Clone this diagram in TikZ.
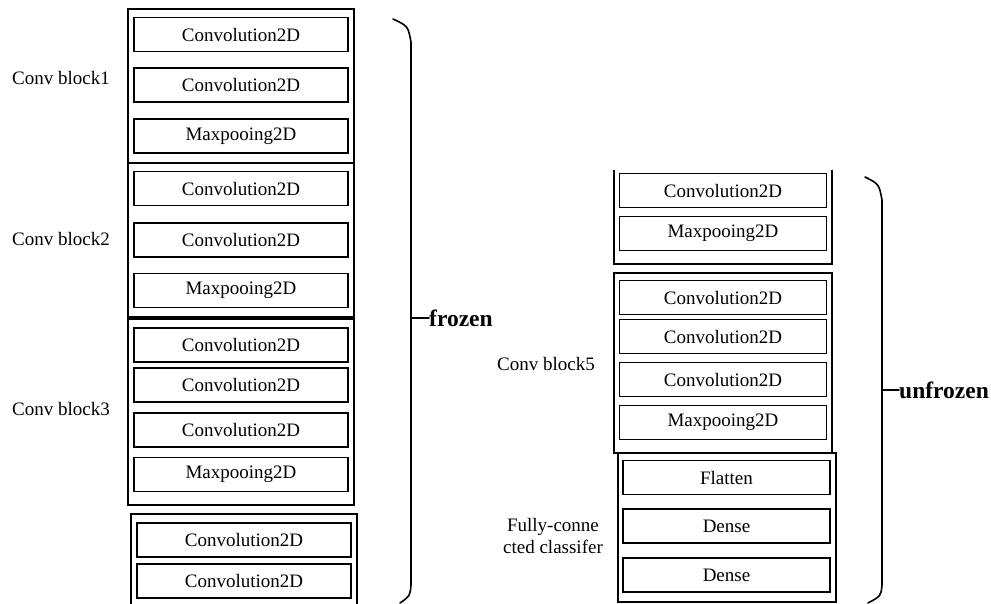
\documentclass[tikz,border=0pt]{standalone}
\usepackage{fontspec}
\setmainfont{Liberation Serif}
\usepackage{tikz}
\usetikzlibrary{positioning}
\tikzset{
  layer/.style={draw,line width=1.5pt,inner sep=0pt,minimum height=34pt,font=\fontsize{19}{21}\selectfont},
  layerL/.style={layer,minimum width=214pt},
  layerR/.style={layer,minimum width=207pt},
  blockbox/.style={draw,line width=1.3pt,inner sep=0pt},
  blocklab/.style={inner sep=0pt,align=center,font=\fontsize{19}{22}\selectfont},
  brace/.style={line width=1.6pt,line cap=round},
  bracelab/.style={inner sep=0pt,anchor=west,font=\fontsize{23.5}{25}\selectfont\bfseries}
}

\begin{document}
\begin{tikzpicture}[x=1pt,y=-1pt]
\clip (0,0) rectangle (991,603);
\useasboundingbox (0,0) rectangle (991,603);
% left column
\node[blockbox,minimum width=226pt,minimum height=154pt] (blk1) at (241,86) {};
\node[blockbox,minimum width=226pt,minimum height=154pt] (blk2) at (241,240) {};
\node[blockbox,minimum width=226pt,minimum height=186pt] (blk3) at (241,412) {};
\node[blockbox,minimum width=226pt,minimum height=100pt] (blk4) at (244,564) {};
\node[layerL] (c11) at (241,34.5) {Convolution2D};
\node[layerL] (c12) at (241,85) {Convolution2D};
\node[layerL] (p1) at (241,136) {Maxpooing2D};
\node[layerL] (c21) at (241,188.5) {Convolution2D};
\node[layerL] (c22) at (241,240) {Convolution2D};
\node[layerL] (p2) at (241,290.5) {Maxpooing2D};
\node[layerL] (c31) at (241,345) {Convolution2D};
\node[layerL] (c32) at (241,385) {Convolution2D};
\node[layerL] (c33) at (241,430) {Convolution2D};
\node[layerL] (p3) at (241,474.5) {Maxpooing2D};
\node[layerL] (c41) at (244,540) {Convolution2D};
\node[layerL] (c42) at (244,581) {Convolution2D};
\node[blocklab] (lab1) at (61,78) {Conv block1};
\node[blocklab] (lab2) at (61,239) {Conv block2};
\node[blocklab] (lab3) at (61,409) {Conv block3};
% frozen brace
\draw[brace] (393,19) .. controls (408,26) .. (411,42) -- (411,585) .. controls (410,596) .. (400,603);
\node[bracelab] (frozen) at (429,318) {frozen};
\draw[brace] (411,318) -- (frozen.west);
% right column
\draw[blockbox] (614,170) -- (614,264) -- (832,264) -- (832,170);
\node[blockbox,minimum width=218pt,minimum height=180pt] (blk5) at (723,363) {};
\node[blockbox,minimum width=218pt,minimum height=149pt] (fc) at (727,527.5) {};
\node[layerR] (c43) at (723,190.5) {Convolution2D};
\node[layerR] (p4) at (723,233.5) {Maxpooing2D};
\node[layerR] (c51) at (723,297.5) {Convolution2D};
\node[layerR] (c52) at (723,336.5) {Convolution2D};
\node[layerR] (c53) at (723,379.5) {Convolution2D};
\node[layerR] (p5) at (723,422.5) {Maxpooing2D};
\node[layerR] (flat) at (726.5,477.5) {Flatten};
\node[layerR] (dense1) at (726.5,526) {Dense};
\node[layerR] (dense2) at (726.5,575) {Dense};
\node[blocklab] (lab5) at (546,364) {Conv block5};
\node[blocklab] (labfc) at (553,536) {Fully-conne\\cted classifer};
% unfrozen brace
\draw[brace] (865,177) .. controls (879,184) .. (882,200) -- (882,585) .. controls (881,596) .. (868,603);
\node[bracelab] (unfrozen) at (899,390) {unfrozen};
\draw[brace] (882,390) -- (unfrozen.west);
\end{tikzpicture}
\end{document}
